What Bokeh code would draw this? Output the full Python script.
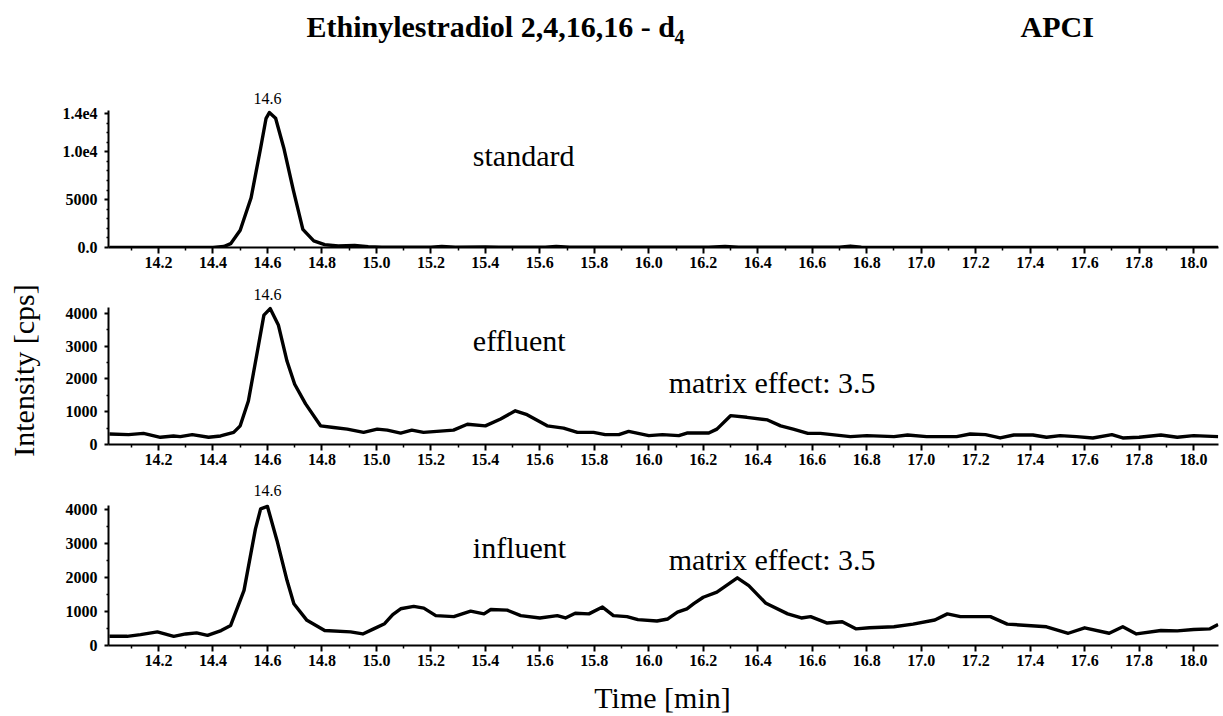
import math
from bokeh.plotting import figure
from bokeh.layouts import column, row
from bokeh.models import Label, FixedTicker, Range1d, NumeralTickFormatter
from bokeh.core.properties import value
from bokeh.embed import file_html
from bokeh.resources import INLINE

# ---------------- data ----------------
title_text = "Ethinylestradiol 2,4,16,16 - d"
title_sub = "4"
title_right = "APCI"
x_title = "Time [min]"
y_title = "Intensity [cps]"
panel_names = ["standard", "effluent", "influent"]
peak_label = "14.6"
matrix_label = "matrix effect: 3.5"

x_major = [14.2, 14.4, 14.6, 14.8, 15.0, 15.2, 15.4, 15.6, 15.8, 16.0,
           16.2, 16.4, 16.6, 16.8, 17.0, 17.2, 17.4, 17.6, 17.8, 18.0]
x_minor = [14.1, 14.3, 14.5, 14.7, 14.9, 15.1, 15.3, 15.5, 15.7, 15.9,
           16.1, 16.3, 16.5, 16.7, 16.9, 17.1, 17.3, 17.5, 17.7, 17.9]

std_ticks = [0, 5000, 10000, 14000]
std_tick_labels = ["0.0", "5000", "1.0e4", "1.4e4"]
std_minor = [1000, 2000, 3000, 4000, 6000, 7000, 8000, 9000, 11000, 12000, 13000]
cps_ticks = [0, 1000, 2000, 3000, 4000]
cps_tick_labels = ["0", "1000", "2000", "3000", "4000"]
cps_minor = [500, 1500, 2500, 3500]

std_t = [14.02, 14.40, 14.44, 14.465, 14.50, 14.54, 14.575, 14.595, 14.607, 14.63,
         14.66, 14.695, 14.73, 14.77, 14.81, 14.86, 14.92, 14.97, 15.02, 15.20,
         15.24, 15.29, 15.40, 15.45, 15.62, 15.66, 15.71, 16.22, 16.28, 16.33,
         16.70, 16.74, 16.78, 18.09]
std_i = [0, 0, 100, 400, 1800, 5200, 10400, 13500, 14100, 13500,
         10400, 6000, 1900, 700, 300, 150, 220, 80, 40, 30,
         100, 30, 60, 40, 40, 110, 30, 20, 100, 20,
         20, 150, 20, 10]

eff_t = [14.02, 14.09, 14.145, 14.207, 14.255, 14.28, 14.324, 14.384, 14.428, 14.476,
         14.50, 14.53, 14.563, 14.587, 14.61, 14.64, 14.672, 14.70, 14.74, 14.795,
         14.843, 14.893, 14.953, 15.003, 15.04, 15.089, 15.13, 15.173, 15.283, 15.334,
         15.40, 15.456, 15.51, 15.553, 15.627, 15.687, 15.738, 15.797, 15.84, 15.89,
         15.926, 16.0, 16.05, 16.11, 16.14, 16.22, 16.25, 16.30, 16.36, 16.436,
         16.484, 16.53, 16.584, 16.63, 16.74, 16.80, 16.90, 16.95, 17.02, 17.13,
         17.18, 17.236, 17.29, 17.34, 17.41, 17.46, 17.51, 17.57, 17.63, 17.70,
         17.74, 17.80, 17.88, 17.94, 18.0, 18.09]
eff_i = [320, 300, 340, 220, 260, 240, 300, 220, 260, 370,
         570, 1330, 2840, 3950, 4150, 3650, 2540, 1840, 1240, 570,
         520, 470, 370, 470, 440, 350, 440, 370, 440, 620,
         570, 780, 1030, 910, 570, 500, 370, 370, 300, 300,
         400, 270, 300, 270, 350, 350, 470, 880, 830, 750,
         570, 470, 340, 340, 240, 270, 240, 290, 240, 240,
         320, 300, 200, 290, 290, 220, 270, 240, 200, 300,
         200, 220, 290, 220, 270, 240]

inf_t = [14.02, 14.085, 14.134, 14.196, 14.256, 14.30, 14.34, 14.38, 14.43, 14.465,
         14.514, 14.556, 14.575, 14.60, 14.635, 14.672, 14.697, 14.745, 14.81, 14.905,
         14.95, 14.99, 15.03, 15.06, 15.089, 15.137, 15.174, 15.218, 15.284, 15.346,
         15.395, 15.42, 15.48, 15.53, 15.60, 15.664, 15.694, 15.73, 15.78, 15.83,
         15.87, 15.92, 15.96, 16.03, 16.07, 16.105, 16.14, 16.165, 16.20, 16.25,
         16.325, 16.367, 16.43, 16.51, 16.56, 16.594, 16.655, 16.71, 16.76, 16.81,
         16.90, 16.97, 17.05, 17.096, 17.144, 17.254, 17.316, 17.46, 17.54, 17.60,
         17.69, 17.74, 17.79, 17.88, 17.94, 18.0, 18.06, 18.09]
inf_i = [270, 270, 320, 400, 270, 340, 370, 300, 440, 590,
         1620, 3430, 4020, 4090, 3090, 1910, 1230, 740, 440, 400,
         340, 490, 640, 910, 1080, 1150, 1100, 880, 850, 1010,
         930, 1060, 1040, 880, 810, 880, 810, 950, 930, 1130,
         880, 850, 760, 720, 780, 980, 1080, 1230, 1420, 1570,
         1990, 1760, 1240, 930, 810, 850, 660, 700, 490, 520,
         550, 630, 750, 930, 850, 850, 630, 550, 360, 520,
         360, 550, 340, 440, 430, 470, 490, 620]

# ---------------- styling / layout ----------------
FONT = "Liberation Serif"
X_START, X_END = 14.0165, 18.0914
LEFT_W = 56
COL_W = 1223 - LEFT_W
FRAME_L, FRAME_R = 108, 1218   # page pixels of the aligned plot frames
HEADER_H, FOOTER_H = 82, 37


def bare(width, height, xr, yr):
    p = figure(width=width, height=height, x_range=xr, y_range=yr,
               output_backend="svg", toolbar_location=None, title=None,
               min_border_left=0, min_border_right=0, min_border_top=0, min_border_bottom=0)
    p.axis.visible = False
    p.grid.visible = False
    p.outline_line_color = None
    return p


def panel(t, v, y_end, y_bound, yt, yl, ym, h, bb):
    p = figure(width=COL_W, height=h, x_range=Range1d(X_START, X_END), y_range=Range1d(0, y_end),
               output_backend="svg", toolbar_location=None, title=None,
               min_border_left=FRAME_L - LEFT_W, min_border_right=1223 - FRAME_R,
               min_border_top=0, min_border_bottom=bb)
    p.line(t, v, line_color="black", line_width=3.4, line_join="round")
    p.xgrid.visible = False
    p.ygrid.visible = False
    p.outline_line_color = None

    xa = p.xaxis[0]
    xa.ticker = FixedTicker(ticks=x_major, minor_ticks=x_minor)
    xa.formatter = NumeralTickFormatter(format="0.0")
    ya = p.yaxis[0]
    ya.ticker = FixedTicker(ticks=yt, minor_ticks=ym)
    ya.major_label_overrides = {k: s for k, s in zip(yt, yl)}
    ya.bounds = (0, y_bound)
    for ax in (xa, ya):
        ax.axis_line_width = 2
        ax.axis_line_color = "black"
        ax.major_tick_line_width = 2
        ax.minor_tick_line_width = 1.5
        ax.major_tick_in = 0
        ax.minor_tick_in = 0
        ax.major_label_text_font = FONT
        ax.major_label_text_font_style = "bold"
        ax.major_label_text_font_size = "16px"
        ax.major_label_text_color = "black"
    xa.major_tick_out = 6
    xa.minor_tick_out = 3
    xa.major_label_standoff = 3
    ya.major_tick_out = 4
    ya.minor_tick_out = 2
    ya.major_label_standoff = 7
    return p


def txt(p, x, y, s, size="30px", **kw):
    p.add_layout(Label(x=x, y=y, text=s, text_font=FONT, text_font_size=size,
                       text_color="black", text_baseline="alphabetic", **kw))


# header with titles (x range = page pixels of the aligned frame, y = pixels from header bottom)
header = bare(COL_W, HEADER_H, Range1d(FRAME_L, FRAME_R), Range1d(0, HEADER_H))
header.text(x=[306, 1020], y=[HEADER_H - 26, HEADER_H - 26], text=[title_text, title_right],
            text_font=value(FONT), text_font_style="bold", text_font_size="30px",
            text_color="black", text_baseline="alphabetic")
header.text(x=[674], y=[HEADER_H - 36], text=[title_sub],
            text_font=value(FONT), text_font_style="bold", text_font_size="20px",
            text_color="black", text_baseline="alphabetic")

p1 = panel(std_t, std_i, 17240, 14300, std_ticks, std_tick_labels, std_minor, 195, 30)
p2 = panel(eff_t, eff_i, 5099, 4180, cps_ticks, cps_tick_labels, cps_minor, 200, 33)
p3 = panel(inf_t, inf_i, 4941, 4120, cps_ticks, cps_tick_labels, cps_minor, 202, 34)

footer = bare(COL_W, FOOTER_H, Range1d(FRAME_L, FRAME_R), Range1d(0, FOOTER_H))
footer.text(x=[662], y=[19], text=[x_title], text_font=value(FONT),
            text_font_size="30px", text_color="black", text_align="center",
            text_baseline="alphabetic")

left = bare(LEFT_W, 716, Range1d(0, LEFT_W), Range1d(0, 716))
left.text(x=[23], y=[716 - 370], text=[y_title], text_font=value(FONT),
          text_font_size="30px", text_color="black", angle=math.pi / 2,
          text_align="center", text_baseline="middle")

# panel annotations
txt(p1, 15.354, 9612, panel_names[0])
txt(p2, 15.354, 3176, panel_names[1])
txt(p3, 15.354, 2882, panel_names[2])
txt(p2, 16.073, 1893, matrix_label)
txt(p3, 16.073, 2529, matrix_label)
txt(p1, 14.6, 15568, peak_label, size="16px", text_align="center")
txt(p2, 14.6, 4580, peak_label, size="16px", text_align="center")
txt(p3, 14.6, 4559, peak_label, size="16px", text_align="center")

layout = row(left, column(header, p1, p2, p3, footer, spacing=0), spacing=0)
open("out.html", "w").write(file_html(layout, INLINE))
